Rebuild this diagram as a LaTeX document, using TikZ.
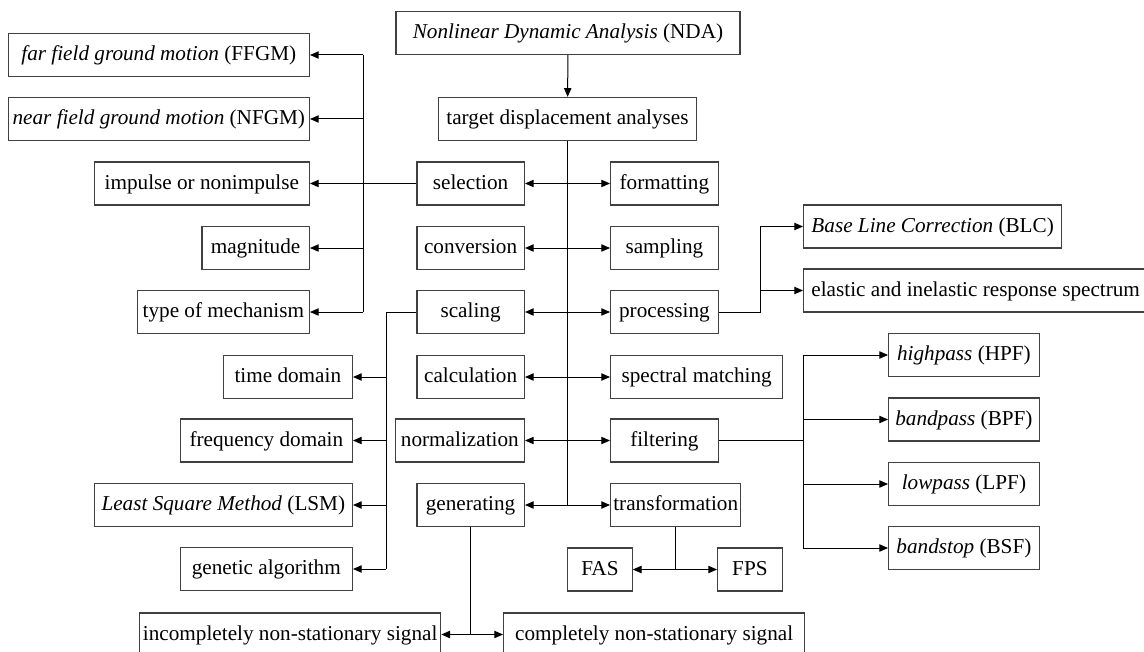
\documentclass[tikz,border=0pt]{standalone}
\usepackage{fontspec}
\setmainfont{Liberation Serif}
\usetikzlibrary{arrows.meta}
\tikzstyle{box}=[draw=black!75,line width=1pt,minimum height=32.25pt,inner xsep=2pt,inner ysep=0pt,text height=12pt,text depth=3.2pt,font=\fontsize{15.9}{19}\selectfont]
\tikzset{cols/.style={minimum width=#1*16.125pt}}
\tikzstyle{lnhead}=[>/.tip={Triangle[length=6.5pt,width=5.5pt]}]
\tikzstyle{ln}  =[line width=.75pt,lnhead]
\tikzstyle{arw} =[ln,->]
\tikzstyle{arws}=[ln,<->]
\begin{document}
\begin{tikzpicture}[x=0.75pt,y=-0.75pt]
	\fill[white] (0,0) rectangle (1144,652);
	\useasboundingbox (0,0) rectangle (1144,652);
	\node[box,cols=16] (nda)    at (568,33)    {\textit{Nonlinear Dynamic Analysis} (NDA)};
	\node[box,cols=12] (target) at (567.5,119) {target displacement analyses};

	\node[box,cols=14,anchor=east] (ffgm)      at (310,55)    {\textit{far field ground motion} (FFGM)};
	\node[box,cols=14,anchor=east] (nfgm)      at (310,119)   {\textit{near field ground motion} (NFGM)};
	\node[box,cols=10,anchor=east] (impulse)   at (310,183.5) {impulse or nonimpulse};
	\node[box,cols=5, anchor=east] (magnitude) at (310,248)   {magnitude};
	\node[box,cols=8, anchor=east] (mechanism) at (310,312)   {type of mechanism};

	\node[box,cols=6, anchor=east] (time)      at (353,377)   {time domain};
	\node[box,cols=8, anchor=east] (frequency) at (353,440.5) {frequency domain};
	\node[box,cols=12,anchor=east] (lsm)       at (353,505)   {\textit{Least Square Method} (LSM)};
	\node[box,cols=8, anchor=east] (genetic)   at (353,569)   {genetic algorithm};

	\node[box,cols=5,anchor=east] (selection)     at (525,183.5) {selection};
	\node[box,cols=5,anchor=east] (conversion)    at (525,248)   {conversion};
	\node[box,cols=5,anchor=east] (scaling)       at (525,312)   {scaling};
	\node[box,cols=5,anchor=east] (calculation)   at (525,377)   {calculation};
	\node[box,cols=6,anchor=east] (normalization) at (525,440.5) {normalization};
	\node[box,cols=5,anchor=east] (generating)    at (525,505)   {generating};

	\node[box,cols=5,anchor=west] (formatting)     at (610,183.5) {formatting};
	\node[box,cols=5,anchor=west] (sampling)       at (610,248)   {sampling};
	\node[box,cols=5,anchor=west] (processing)     at (610,312)   {processing};
	\node[box,cols=8,anchor=west] (spectral)       at (610,377)   {spectral matching};
	\node[box,cols=5,anchor=west] (filtering)      at (610,440.5) {filtering};
	\node[box,cols=6,anchor=west] (transformation) at (610,505)   {transformation};

	\node[box,cols=3,anchor=west] (fas) at (567,569.5) {FAS};
	\node[box,cols=3,anchor=west] (fps) at (717,569.5) {FPS};

	\node[box,cols=12,anchor=west] (blc)     at (803,226.5) {\textit{Base Line Correction} (BLC)};
	\node[box,cols=16,anchor=west] (elastic) at (803,290.5) {elastic and inelastic response spectrum};

	\node[box,cols=7,anchor=west] (hpf) at (888,355)   {\textit{highpass} (HPF)};
	\node[box,cols=7,anchor=west] (bpf) at (888,419.5) {\textit{bandpass} (BPF)};
	\node[box,cols=7,anchor=west] (lpf) at (888,484)   {\textit{lowpass} (LPF)};
	\node[box,cols=7,anchor=west] (bsf) at (888,548)   {\textit{bandstop} (BSF)};

	\node[box,cols=14,anchor=west] (incomplete) at (139,634.5) {incompletely non-stationary signal};
	\node[box,cols=14,anchor=west] (complete)   at (503,634.5) {completely non-stationary signal};

	\coordinate (lbus) at (363,0);
	\coordinate (sbus) at (386,0);
	\coordinate (pbus) at (760,0);
	\coordinate (fbus) at (803,0);

	\draw[arw] (nda) -- (target);
	\draw[ln] (target) -- (target |- generating);
	\foreach \l/\r in {selection/formatting,conversion/sampling,scaling/processing,calculation/spectral,normalization/filtering,generating/transformation}
		\draw[arws] (\l) -- (\r);

	\draw[arw] (selection) -- (impulse);
	\draw[ln] (ffgm.east -| lbus) -- (mechanism.east -| lbus);
	\foreach \n in {ffgm,nfgm,magnitude,mechanism}
		\draw[arw] (\n.east -| lbus) -- (\n);

	\draw[ln] (scaling) -| (sbus |- genetic);
	\foreach \n in {time,frequency,lsm,genetic}
		\draw[arw] (\n.east -| sbus) -- (\n);

	\draw[ln] (processing) -| (pbus |- blc);
	\foreach \n in {blc,elastic}
		\draw[arw] (\n.west -| pbus) -- (\n);

	\draw[ln] (filtering) -- (filtering -| fbus);
	\draw[ln] (hpf -| fbus) -- (bsf -| fbus);
	\foreach \n in {hpf,bpf,lpf,bsf}
		\draw[arw] (\n -| fbus) -- (\n);

	\draw[ln] (transformation) -- (transformation |- fas) coordinate (tj);
	\draw[arw] (tj) -- (fas);
	\draw[arw] (tj) -- (fps);

	\draw[ln] (generating) -- (generating |- incomplete) coordinate (gj);
	\draw[arw] (gj) -- (incomplete);
	\draw[arw] (gj) -- (complete);
\end{tikzpicture}
\end{document}
